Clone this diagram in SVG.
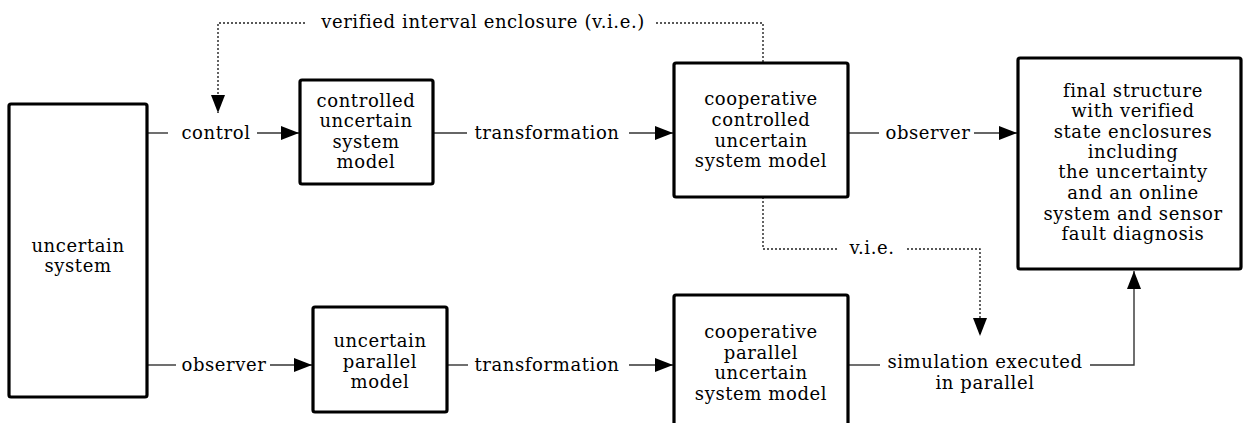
<svg xmlns="http://www.w3.org/2000/svg" width="1245" height="423" viewBox="0 0 1245 423">
<style>
text{font-family:"DejaVu Serif","Liberation Serif",serif;font-size:18px;letter-spacing:0.6px;fill:#000;text-anchor:middle}
.box{fill:#fff;stroke:#000;stroke-width:3.2}
.ln{fill:none;stroke:#333;stroke-width:1.4}
.dot{fill:none;stroke:#222;stroke-width:1.4;stroke-dasharray:2 2}
</style>
<defs>
<marker id="ah" viewBox="0 0 18 14" refX="18" refY="7" markerWidth="18" markerHeight="14" markerUnits="userSpaceOnUse" orient="auto">
<path d="M0,0 L18,7 L0,14 z" fill="#000"/>
</marker>
</defs>
<g id="connectors">
<line class="ln" x1="147" y1="133" x2="168" y2="133"/>
<line class="ln" x1="257" y1="133" x2="299" y2="133" marker-end="url(#ah)"/>
<line class="ln" x1="433" y1="133" x2="467" y2="133"/>
<line class="ln" x1="629" y1="133" x2="673" y2="133" marker-end="url(#ah)"/>
<line class="ln" x1="848" y1="133" x2="879" y2="133"/>
<line class="ln" x1="974" y1="133" x2="1017" y2="133" marker-end="url(#ah)"/>
<line class="ln" x1="147" y1="365" x2="176" y2="365"/>
<line class="ln" x1="270" y1="365" x2="312" y2="365" marker-end="url(#ah)"/>
<line class="ln" x1="447" y1="365" x2="468" y2="365"/>
<line class="ln" x1="629" y1="365" x2="673" y2="365" marker-end="url(#ah)"/>
<line class="ln" x1="848" y1="365" x2="880" y2="365"/>
<polyline class="ln" points="1090,365 1134,365 1134,271" marker-end="url(#ah)"/>
<polyline class="dot" points="763,62 763,23 655,23"/>
<polyline class="dot" points="305,23 218,23 218,113" marker-end="url(#ah)"/>
<polyline class="dot" points="763,197 763,249 838,249"/>
<polyline class="dot" points="907,249 980,249 980,336" marker-end="url(#ah)"/>
<text x="483" y="28">verified interval enclosure (v.i.e.)</text>
<text x="216" y="139">control</text>
<text x="547" y="139">transformation</text>
<text x="928" y="139">observer</text>
<text x="224" y="371">observer</text>
<text x="547" y="371">transformation</text>
<text x="985" y="368">simulation executed</text>
<text x="985" y="389">in parallel</text>
<text x="872" y="254">v.i.e.</text>
</g>
<g id="uncertain-system">
<rect class="box" x="9" y="104" width="138" height="293" rx="2"/>
<text x="78" y="252">uncertain</text>
<text x="78" y="272">system</text>
</g>
<g id="controlled-model">
<rect class="box" x="300" y="80" width="133" height="104" rx="2"/>
<text x="366" y="107">controlled</text>
<text x="366" y="127">uncertain</text>
<text x="366" y="148">system</text>
<text x="366" y="168">model</text>
</g>
<g id="cooperative-controlled">
<rect class="box" x="674" y="63" width="174" height="134" rx="2"/>
<text x="761" y="105">cooperative</text>
<text x="761" y="126">controlled</text>
<text x="761" y="147">uncertain</text>
<text x="761" y="167">system model</text>
</g>
<g id="final-structure">
<rect class="box" x="1018" y="58" width="223" height="211" rx="2"/>
<text x="1133" y="97">final structure</text>
<text x="1133" y="117">with verified</text>
<text x="1133" y="138">state enclosures</text>
<text x="1133" y="158">including</text>
<text x="1133" y="178">the uncertainty</text>
<text x="1133" y="199">and an online</text>
<text x="1133" y="220">system and sensor</text>
<text x="1133" y="240">fault diagnosis</text>
</g>
<g id="parallel-model">
<rect class="box" x="313" y="307" width="134" height="105" rx="2"/>
<text x="380" y="347">uncertain</text>
<text x="380" y="368">parallel</text>
<text x="380" y="388">model</text>
</g>
<g id="cooperative-parallel">
<rect class="box" x="674" y="295" width="174" height="140" rx="2"/>
<text x="761" y="338">cooperative</text>
<text x="761" y="359">parallel</text>
<text x="761" y="379">uncertain</text>
<text x="761" y="400">system model</text>
</g>
</svg>
